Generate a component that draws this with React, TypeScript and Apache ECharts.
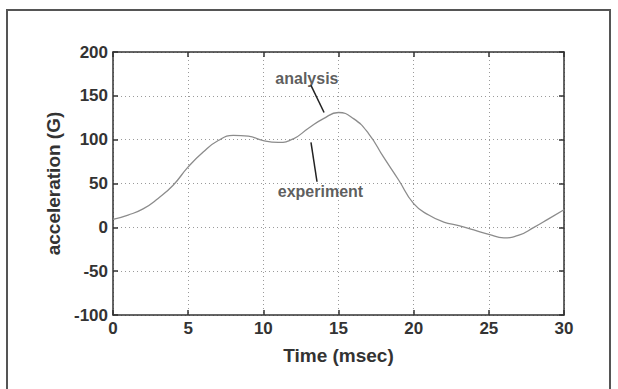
import React, { useEffect, useRef } from "react";
import * as echarts from "echarts";

const timeMs = [0, 1, 2, 3, 4, 5, 6, 7, 8, 9, 10, 11, 12, 13, 14, 15, 16, 17, 18, 19, 20, 21, 22, 23, 24, 25, 26, 27, 28, 29, 30];
const acceleration = [9, 14, 21, 33, 48, 69, 86, 99, 105, 104, 99, 97, 101, 113, 124, 131, 124, 107, 80, 54, 27, 14, 6, 2, -3, -8, -12, -9, 0, 10, 20];
const xTicks = [0, 5, 10, 15, 20, 25, 30];
const yTicks = [-100, -50, 0, 50, 100, 150, 200];
const annotationLabels = ["analysis", "experiment"];
const annotationAnchors = [[12.9, 170], [13.8, 41]];
const pointerLines = [
  [[13.17, 162], [14.04, 131]],
  [[13.17, 97], [13.57, 52]],
];

export default function App() {
  const ref = useRef<HTMLDivElement>(null);
  useEffect(() => {
    document.body.style.margin = "0";
    const chart = echarts.init(ref.current!, null, { renderer: "svg" });
    const font = "'Liberation Sans', Arial, sans-serif";
    const axisLabel = { color: "#333", fontFamily: font, fontWeight: "bold" as const, fontSize: 17 };
    const splitLine = { show: true, lineStyle: { color: "#9a9a9a", type: [1, 3] as any, width: 1 } };
    const axisLine = { show: true, onZero: false, lineStyle: { color: "#333", width: 1.5 } };
    const axisTick = { show: true, inside: true, length: 5, lineStyle: { color: "#333", width: 1.5 } };
    chart.setOption({
      animation: false,
      backgroundColor: "#fff",
      grid: { left: 113, right: 54, top: 52, bottom: 74 },
      graphic: [
        {
          type: "rect",
          shape: { x: 7, y: 10, width: 603, height: 400 },
          style: { fill: "none", stroke: "#555", lineWidth: 2 },
          silent: true,
        },
      ],
      xAxis: [
        {
          type: "value",
          min: xTicks[0],
          max: xTicks[xTicks.length - 1],
          interval: 5,
          name: "Time (msec)",
          nameLocation: "middle",
          nameGap: 31,
          nameTextStyle: { color: "#333", fontFamily: font, fontWeight: "bold", fontSize: 19 },
          axisLabel: { ...axisLabel, margin: 5 },
          axisLine,
          axisTick,
          splitLine,
        },
        {
          type: "value",
          position: "top",
          min: xTicks[0],
          max: xTicks[xTicks.length - 1],
          interval: 5,
          axisLabel: { show: false },
          axisLine,
          axisTick,
          splitLine: { show: false },
        },
      ],
      yAxis: [
        {
          type: "value",
          min: yTicks[0],
          max: yTicks[yTicks.length - 1],
          interval: 50,
          name: "acceleration (G)",
          nameLocation: "middle",
          nameGap: 47,
          nameTextStyle: { color: "#333", fontFamily: font, fontWeight: "bold", fontSize: 19 },
          axisLabel: { ...axisLabel, margin: 5 },
          axisLine,
          axisTick,
          splitLine,
        },
        {
          type: "value",
          position: "right",
          min: yTicks[0],
          max: yTicks[yTicks.length - 1],
          interval: 50,
          axisLabel: { show: false },
          axisLine,
          axisTick,
          splitLine: { show: false },
        },
      ],
      series: [
        {
          type: "line",
          data: timeMs.map((t, i) => [t, acceleration[i]]),
          smooth: true,
          symbol: "none",
          lineStyle: { color: "#8c8c8c", width: 1.3 },
          markLine: {
            silent: true,
            symbol: "none",
            label: { show: false },
            lineStyle: { color: "#222", width: 1.5, type: "solid" },
            data: pointerLines.map((l) => [{ coord: l[0] }, { coord: l[1] }]),
          },
        },
        {
          type: "scatter",
          symbolSize: 0,
          data: annotationAnchors.map((a, i) => ({ value: a, name: annotationLabels[i] })),
          label: {
            show: true,
            position: "inside",
            formatter: (p: any) => p.name,
            color: "#333",
            fontFamily: font,
            fontWeight: "bold",
            fontSize: 16,
          },
        },
      ],
    });
    return () => chart.dispose();
  }, []);
  return <div ref={ref} style={{ width: 618, height: 389 }} />;
}
